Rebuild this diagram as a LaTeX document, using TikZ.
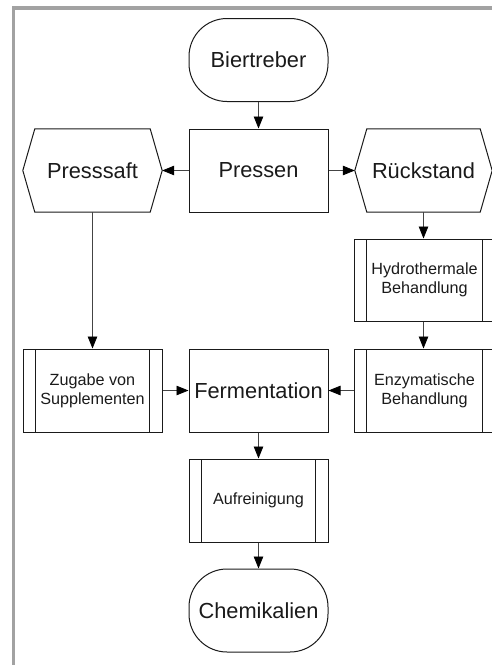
\documentclass[tikz,border=0pt]{standalone}
\usepackage{fontspec}
\setmainfont{Liberation Sans}
\usetikzlibrary{arrows.meta}
\definecolor{framegray}{HTML}{A2A2A2}
\definecolor{ink}{HTML}{1A1A1A}
\definecolor{conn}{HTML}{444444}
\tikzset{
  bigtxt/.style={font=\fontsize{21.8}{25}\selectfont},
  smalltxt/.style={font=\fontsize{16.2}{19}\selectfont},
  base/.style={inner sep=0pt, align=center, text=ink, minimum height=83pt},
  outline/.style={draw=ink, line width=1pt},
  term/.style={base, outline, bigtxt, rounded corners=38pt, minimum width=139pt},
  proc/.style={base, outline, bigtxt, minimum width=139pt},
  hexa/.style={base, bigtxt},
  subproc/.style={base, outline, smalltxt,
    path picture={
      \draw[draw=ink, line width=1pt]
        ([xshift=12.5pt]path picture bounding box.north west) -- ([xshift=12.5pt]path picture bounding box.south west)
        ([xshift=-12.5pt]path picture bounding box.north east) -- ([xshift=-12.5pt]path picture bounding box.south east);
    }},
  conn/.style={draw=conn, line width=0.8pt, -{Triangle[length=12pt,width=9.5pt,color=black]}},
}
\begin{document}
\begin{tikzpicture}[x=1pt,y=-1pt]
\useasboundingbox (0,0) rectangle (491,665);
% frame
\draw[framegray, line width=3.2pt] (13.5,670) -- (13.5,8) -- (495,8);

\node[term] (bt) at (258.5,60) {Biertreber};
\node[proc] (pr) at (258.5,170.5) {Pressen};
\node[hexa, minimum width=139pt] (ps) at (92.5,170.5) {Presssaft};
\node[hexa, minimum width=137pt] (rs) at (423.5,170.5) {Rückstand};
\draw[outline] ([xshift=12pt]ps.north west) -- (ps.west) -- ([xshift=12pt]ps.south west)
  -- ([xshift=-12pt]ps.south east) -- (ps.east) -- ([xshift=-12pt]ps.north east) -- cycle;
\draw[outline] ([xshift=12pt]rs.north west) -- (rs.west) -- ([xshift=12pt]rs.south west)
  -- ([xshift=-12pt]rs.south east) -- (rs.east) -- ([xshift=-12pt]rs.north east) -- cycle;

\node[subproc, minimum width=141pt, minimum height=82pt] (hy) at (424.5,280) {Hydrothermale\\Behandlung};
\node[subproc, minimum width=141pt] (en) at (424.5,390.5) {Enzymatische\\Behandlung};
\node[subproc, minimum width=139pt] (zu) at (92.5,390.5) {Zugabe von\\Supplementen};
\node[proc] (fe) at (258.5,390.5) {Fermentation};
\node[subproc, minimum width=139pt] (au) at (258.5,500.5) {Aufreinigung};
\node[term] (ch) at (258.5,610.5) {Chemikalien};

\draw[conn] (bt.south) -- (pr.north);
\draw[conn] (pr.west) -- (ps.east);
\draw[conn] (pr.east) -- (rs.west);
\draw[conn] (rs.south) -- (rs.south |- hy.north);
\draw[conn] (rs.south |- hy.south) -- (rs.south |- en.north);
\draw[conn] (ps.south) -- (zu.north);
\draw[conn] (zu.east) -- (fe.west);
\draw[conn] (en.west) -- (fe.east);
\draw[conn] (fe.south) -- (au.north);
\draw[conn] (au.south) -- (ch.north);
\end{tikzpicture}
\end{document}
